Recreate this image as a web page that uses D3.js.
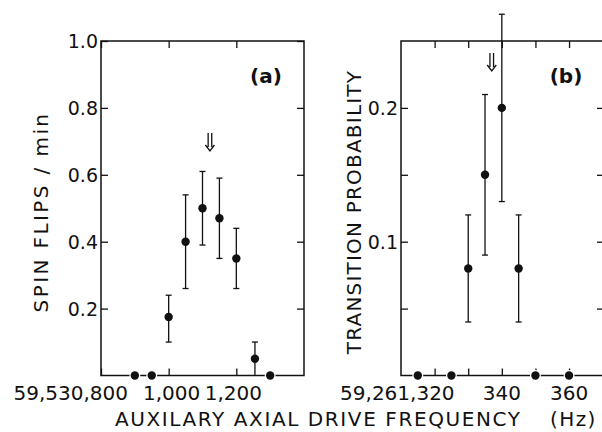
<!DOCTYPE html>
<html>
<head>
<meta charset="utf-8">
<script src="https://cdn.jsdelivr.net/npm/d3@7"></script>
<style>
	body { margin: 0; background: #fff; }
	svg text { font-family: "DejaVu Sans", sans-serif; fill: #111; }
</style>
</head>
<body>
<div id="warper"></div>
<script>

/* panel (a): spin flips vs frequency offset from 59,530,000 Hz */
var freqA  = [900, 950, 1000, 1050, 1100, 1150, 1200, 1255, 1300];
var flipsA = [0, 0, 0.175, 0.40, 0.50, 0.47, 0.35, 0.05, 0];
var loA    = [null, null, 0.10, 0.26, 0.39, 0.35, 0.26, 0, null];
var hiA    = [null, null, 0.24, 0.54, 0.61, 0.59, 0.44, 0.10, null];
var yTicksA = [0.2, 0.4, 0.6, 0.8, 1.0];
var xTicksA = [800, 1000, 1200];
var xLabelsA = ["59,530,800", "1,000", "1,200"];
var markA = 1122;   // resonance arrow

/* panel (b): transition probability vs frequency offset from 59,261,000 Hz */
var freqB = [315, 325, 330, 335, 340, 345, 350, 360];
var probB = [0, 0, 0.08, 0.15, 0.20, 0.08, 0, 0];
var loB   = [null, null, 0.04, 0.09, 0.13, 0.04, null, null];
var hiB   = [null, null, 0.12, 0.21, 0.27, 0.12, null, null];
var yTicksB = [0.05, 0.1, 0.15, 0.2];
var yLabelsB = {0.1: "0.1", 0.2: "0.2"};
var xTicksB = [320, 330, 340, 350, 360];
var xLabelsB = {320: "59,261,320", 340: "340", 360: "360"};
var markB = 337;

var svg = d3.select("#warper").append("svg")
	.attr("width", 602)
	.attr("height", 432);

function makePanel(opt){

	var x = d3.scaleLinear().domain(opt.xDomain).range([opt.left, opt.right]);
	var y = d3.scaleLinear().domain(opt.yDomain).range([opt.bottom, opt.top]);
	var g = svg.append("g");

	// frame
	g.append("rect")
	   .attr("x", opt.left).attr("y", opt.top)
	   .attr("width", opt.right - opt.left)
	   .attr("height", opt.bottom - opt.top)
	   .attr("fill", "none")
	   .attr("stroke", "#111")
	   .attr("stroke-width", 1.5);

	// inward ticks on all four sides
	var tk = 7;
	var ax = [
		d3.axisBottom(x).tickValues(opt.xTicks).tickSize(-tk).tickFormat(""),
		d3.axisTop(x).tickValues(opt.xTicks).tickSize(-tk).tickFormat(""),
		d3.axisLeft(y).tickValues(opt.yTicks).tickSize(-tk).tickFormat(""),
		d3.axisRight(y).tickValues(opt.yTicks).tickSize(-tk).tickFormat("")
	];
	var tr = ["translate(0," + opt.bottom + ")", "translate(0," + opt.top + ")",
	          "translate(" + opt.left + ",0)", "translate(" + opt.right + ",0)"];
	ax.forEach(function(a, i){
		var a_ = g.append("g").attr("transform", tr[i]).call(a);
		a_.select(".domain").remove();
		a_.selectAll("line").attr("stroke", "#111").attr("stroke-width", 1.3);
	});

	// tick labels
	opt.xTicks.forEach(function(t){
		var lab = opt.xLabel(t);
		if (!lab) return;
		g.append("text")
		   .attr("x", x(t) + (opt.xShift[t] || 0))
		   .attr("y", opt.bottom + 24)
		   .attr("text-anchor", opt.xAnchor[t] || "middle")
		   .attr("font-size", 20)
		   .text(lab);
	});
	opt.yTicks.forEach(function(t){
		var lab = opt.yLabel(t);
		if (!lab) return;
		g.append("text")
		   .attr("x", opt.left - 3)
		   .attr("y", y(t) + 7)
		   .attr("text-anchor", "end")
		   .attr("font-size", 19)
		   .text(lab);
	});

	// error bars
	var idx = d3.range(opt.xs.length).filter(function(i){ return opt.hi[i] !== null; });
	var eb = g.selectAll("g.err").data(idx).enter().append("g")
	   .attr("stroke", "#111").attr("stroke-width", 1.3);
	eb.append("line")
	   .attr("x1", function(i){ return x(opt.xs[i]); })
	   .attr("x2", function(i){ return x(opt.xs[i]); })
	   .attr("y1", function(i){ return y(opt.lo[i]); })
	   .attr("y2", function(i){ return y(opt.hi[i]); });
	eb.append("line")
	   .attr("x1", function(i){ return x(opt.xs[i]) - 3; })
	   .attr("x2", function(i){ return x(opt.xs[i]) + 3; })
	   .attr("y1", function(i){ return y(opt.hi[i]); })
	   .attr("y2", function(i){ return y(opt.hi[i]); });
	eb.filter(function(i){ return opt.lo[i] > 0; }).append("line")
	   .attr("x1", function(i){ return x(opt.xs[i]) - 3; })
	   .attr("x2", function(i){ return x(opt.xs[i]) + 3; })
	   .attr("y1", function(i){ return y(opt.lo[i]); })
	   .attr("y2", function(i){ return y(opt.lo[i]); });

	// points (white halo on the ones sitting on the axis)
	g.selectAll("circle")
	   .data(opt.xs)
	   .enter()
	   .append("circle")
	   .attr("cx", function(d) { return x(d); })
	   .attr("cy", function(d, i) { return y(opt.ys[i]); })
	   .attr("r", 4.2)
	   .attr("fill", "#111")
	   .attr("stroke", function(d, i) { return opt.ys[i] === 0 ? "#fff" : "none"; })
	   .attr("stroke-width", 2.5)
	   .attr("paint-order", "stroke");

	// double arrow marking the expected resonance
	var ax0 = x(opt.mark), ay0 = opt.arrowTop, ay1 = opt.arrowTop + 18;
	g.append("path")
	   .attr("d", "M" + (ax0 - 1.8) + "," + ay0 + "V" + (ay1 - 4) +
	              "M" + (ax0 + 1.8) + "," + ay0 + "V" + (ay1 - 4) +
	              "M" + (ax0 - 4.5) + "," + (ay1 - 6) + "L" + ax0 + "," + ay1 + "L" + (ax0 + 4.5) + "," + (ay1 - 6))
	   .attr("fill", "none")
	   .attr("stroke", "#111")
	   .attr("stroke-width", 1.3);

	// panel tag
	g.append("text")
	   .attr("x", opt.tagX)
	   .attr("y", 83)
	   .attr("font-size", 20)
	   .attr("font-weight", "bold")
	   .attr("text-anchor", "middle")
	   .text(opt.tag);

	// y title
	g.append("text")
	   .attr("transform", "translate(" + opt.titleX + "," + 212 + ") rotate(-90)")
	   .attr("text-anchor", "middle")
	   .attr("font-size", 20)
	   .attr("letter-spacing", opt.titleSpacing)
	   .text(opt.title);
}

makePanel({
	left: 101, right: 304, top: 41, bottom: 375.5,
	xDomain: [800, 1400], yDomain: [0, 1.0],
	xs: freqA, ys: flipsA, lo: loA, hi: hiA,
	xTicks: xTicksA, yTicks: yTicksA,
	xLabel: function(t){ return xLabelsA[xTicksA.indexOf(t)]; },
	xAnchor: {800: "end"}, xShift: {800: 27, 1000: 3, 1200: -3},
	yLabel: function(t){ return d3.format(".1f")(t); },
	mark: markA, arrowTop: 133,
	tag: "(a)", tagX: 266,
	title: "SPIN FLIPS / min", titleX: 48, titleSpacing: 2.4
});

makePanel({
	left: 401, right: 604, top: 41, bottom: 375.5,
	xDomain: [310, 370.4], yDomain: [0, 0.25],
	xs: freqB, ys: probB, lo: loB, hi: hiB,
	xTicks: xTicksB, yTicks: yTicksB,
	xLabel: function(t){ return xLabelsB[t]; },
	xAnchor: {320: "end"}, xShift: {320: 20},
	yLabel: function(t){ return yLabelsB[t]; },
	mark: markB, arrowTop: 53,
	tag: "(b)", tagX: 566,
	title: "TRANSITION PROBABILITY", titleX: 361, titleSpacing: 1.2
});

// shared x title
svg.append("text")
   .attr("x", 115)
   .attr("y", 426)
   .attr("font-size", 20)
   .attr("letter-spacing", 1.6)
   .text("AUXILARY AXIAL DRIVE FREQUENCY");
svg.append("text")
   .attr("x", 550)
   .attr("y", 426)
   .attr("font-size", 20)
   .attr("letter-spacing", 1.4)
   .text("(Hz)");

</script>
</body>
</html>
